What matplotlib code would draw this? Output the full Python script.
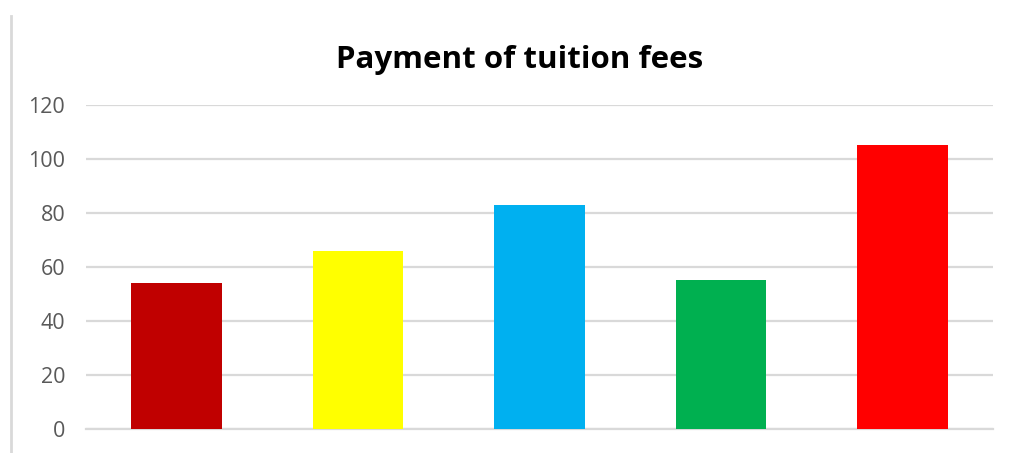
import matplotlib
matplotlib.use("Agg")
import matplotlib.pyplot as plt
from matplotlib.lines import Line2D

categories = ["A", "B", "C", "D", "E"]
values = [54, 66, 83, 55, 105]
colors = ["#C00000", "#FFFF00", "#00B0F0", "#00B050", "#FF0000"]
yticks = [0, 20, 40, 60, 80, 100, 120]

W, H = 1012, 453
fig = plt.figure(figsize=(W / 100, H / 100), dpi=100)
fig.patch.set_facecolor("white")

# plot area in pixel coordinates
left, right = 86, 993
y0_px, y120_px = 429.3, 104.6
ax = fig.add_axes([left / W, 1 - y0_px / H, (right - left) / W, (y0_px - y120_px) / H])

x = range(len(categories))
ax.bar(x, values, width=0.5, color=colors, zorder=3)
ax.set_xlim(-0.5, len(categories) - 0.5)
ax.set_ylim(0, 120)
ax.set_yticks(yticks)
ax.set_yticklabels([str(t) for t in yticks], fontsize=15.5, color="#595959",
                   family="Open Sans")
ax.set_xticks([])
ax.tick_params(axis="y", length=0, pad=15)
ax.grid(axis="y", color="#D9D9D9", linewidth=1.6, zorder=0)
for s in ["top", "right", "left"]:
    ax.spines[s].set_visible(False)
ax.spines["bottom"].set_color("#D9D9D9")
ax.spines["bottom"].set_linewidth(1.6)
ax.spines["bottom"].set_zorder(1)

fig.text(520 / W, 1 - 60 / H, "Payment of tuition fees", ha="center", va="center",
         fontsize=22.5, fontweight="bold", family="Open Sans", color="black")

# thin border line on the left edge
fig.add_artist(Line2D([11 / W, 11 / W], [0, 1 - 16 / H], transform=fig.transFigure,
                      color="#D9D9D9", linewidth=2))

fig.savefig("out.png", dpi=100, facecolor="white")
